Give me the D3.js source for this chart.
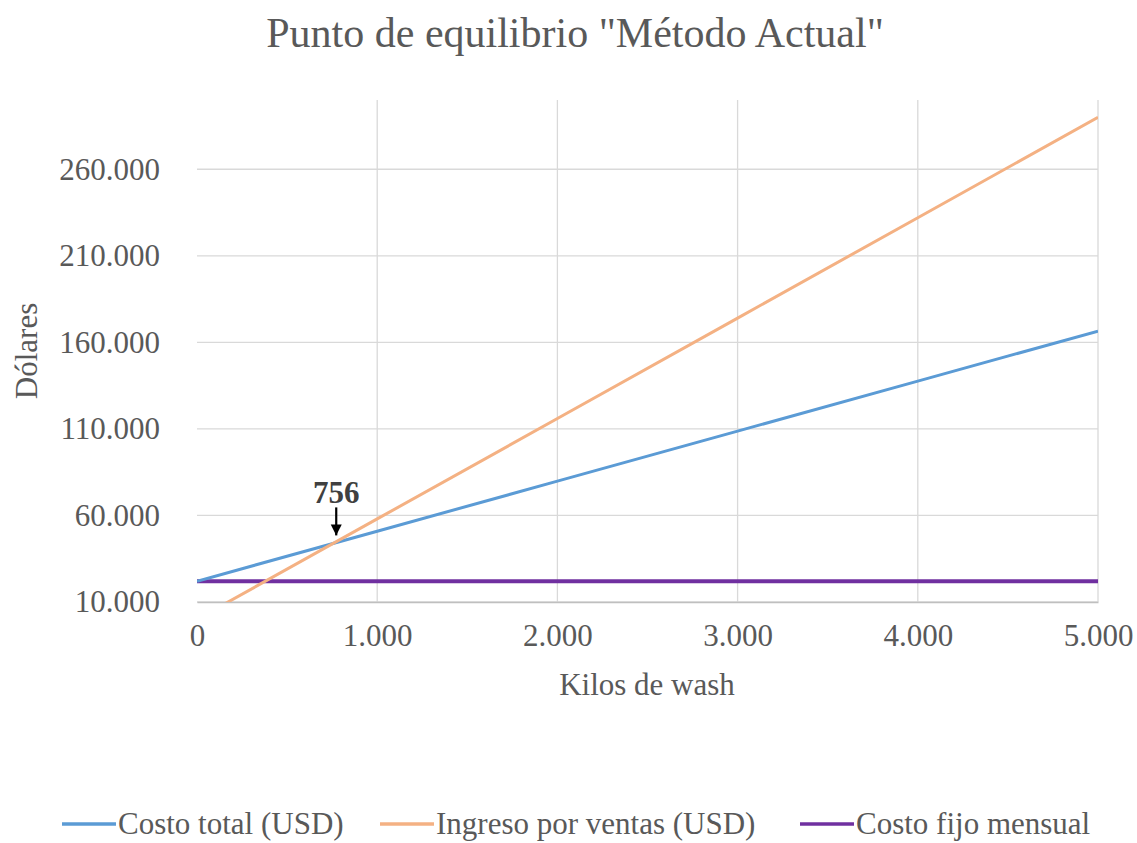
<!DOCTYPE html>
<html>
<head>
<meta charset="utf-8">
<script src="https://cdn.jsdelivr.net/npm/d3@7"></script>
<style>
  html, body { margin: 0; padding: 0; background: #fff; }
  svg { display: block; font-family: "Liberation Serif", "Times New Roman", serif; }
</style>
</head>
<body>
<svg id="chart" width="1137" height="843"></svg>
<script>
// Break-even data (monthly), kilos of wash vs. dollars
const kilos = [0, 1000, 2000, 3000, 4000, 5000];
const costoTotal = [22000, 50900, 79800, 108700, 137600, 166500];
const ingresoVentas = [0, 58000, 116000, 174000, 232000, 290000];
const costoFijo = [22000, 22000, 22000, 22000, 22000, 22000];
const yTicks = [10000, 60000, 110000, 160000, 210000, 260000];
const xTicks = [0, 1000, 2000, 3000, 4000, 5000];
const equilibrioKilos = 756;
const equilibrioCosto = 43848;

const seriesNames = ["Costo total (USD)", "Ingreso por ventas (USD)", "Costo fijo mensual"];
const seriesColors = ["#5b9bd5", "#f4b183", "#7030a0"];

const locale = d3.formatLocale({ decimal: ",", thousands: ".", grouping: [3], currency: ["$", ""] });
const fmt = locale.format(",d");

const svg = d3.select("#chart");
const plot = { left: 197, right: 1098, top: 100, bottom: 602 };

const x = d3.scaleLinear().domain([0, 5000]).range([plot.left, plot.right]);
const y = d3.scaleLinear().domain([10000, 300000]).range([plot.bottom, plot.top]);

const textColor = "#595959";
const gridColor = "#d9d9d9";
const fontSize = 31;

// Title
svg.append("text")
  .attr("x", 575).attr("y", 47)
  .attr("text-anchor", "middle")
  .attr("font-size", 42)
  .attr("fill", textColor)
  .text('Punto de equilibrio "Método Actual"');

// Gridlines
svg.append("g")
  .selectAll("line")
  .data(yTicks)
  .join("line")
  .attr("x1", plot.left).attr("x2", plot.right)
  .attr("y1", d => y(d)).attr("y2", d => y(d))
  .attr("stroke", gridColor).attr("stroke-width", 1.3);

svg.append("g")
  .selectAll("line")
  .data(xTicks.slice(1))
  .join("line")
  .attr("x1", d => x(d)).attr("x2", d => x(d))
  .attr("y1", plot.top).attr("y2", plot.bottom)
  .attr("stroke", gridColor).attr("stroke-width", 1.3);

// Axes (labels only, baseline styled like a gridline)
const xAxis = svg.append("g")
  .attr("transform", `translate(0,${plot.bottom})`)
  .call(d3.axisBottom(x).tickValues(xTicks).tickFormat(fmt).tickSize(0).tickPadding(22));
xAxis.select(".domain").attr("stroke", "#bfbfbf").attr("stroke-width", 1.3);
xAxis.selectAll("text").attr("font-size", fontSize).attr("fill", textColor)
  .attr("font-family", "Liberation Serif, serif");

const yAxis = svg.append("g")
  .attr("transform", `translate(${plot.left},0)`)
  .call(d3.axisLeft(y).tickValues(yTicks).tickFormat(fmt).tickSize(0).tickPadding(37));
yAxis.select(".domain").remove();
yAxis.selectAll("text").attr("font-size", fontSize).attr("fill", textColor)
  .attr("font-family", "Liberation Serif, serif");

// Axis titles
svg.append("text")
  .attr("x", 647).attr("y", 695)
  .attr("text-anchor", "middle")
  .attr("font-size", fontSize).attr("fill", textColor)
  .text("Kilos de wash");

svg.append("text")
  .attr("transform", "translate(37,351) rotate(-90)")
  .attr("text-anchor", "middle")
  .attr("font-size", fontSize).attr("fill", textColor)
  .text("Dólares");

// Clip lines to the plot area
svg.append("clipPath").attr("id", "plotClip")
  .append("rect")
  .attr("x", plot.left).attr("y", plot.top)
  .attr("width", plot.right - plot.left).attr("height", plot.bottom - plot.top);

const seriesData = [costoTotal, ingresoVentas, costoFijo];
const line = d3.line().x((d, i) => x(kilos[i])).y(d => y(d));

const drawOrder = [2, 0, 1];
svg.append("g").attr("clip-path", "url(#plotClip)")
  .selectAll("path")
  .data(drawOrder)
  .join("path")
  .attr("d", k => line(seriesData[k]))
  .attr("fill", "none")
  .attr("stroke", k => seriesColors[k])
  .attr("stroke-width", k => k === 2 ? 4 : 3);

// Break-even annotation
const bx = x(equilibrioKilos), by = y(equilibrioCosto);
svg.append("defs").append("marker")
  .attr("id", "arrowHead")
  .attr("viewBox", "0 0 10 10")
  .attr("refX", 10).attr("refY", 5)
  .attr("markerWidth", 5).attr("markerHeight", 6)
  .attr("markerUnits", "strokeWidth")
  .attr("orient", "auto")
  .append("path").attr("d", "M0,0 L10,5 L0,10 Z").attr("fill", "#000");

svg.append("line")
  .attr("x1", bx + 3).attr("x2", bx + 3)
  .attr("y1", by - 36).attr("y2", by - 8)
  .attr("stroke", "#000").attr("stroke-width", 2.2)
  .attr("marker-end", "url(#arrowHead)");

svg.append("text")
  .attr("x", bx + 3).attr("y", by - 40)
  .attr("text-anchor", "middle")
  .attr("font-size", fontSize).attr("font-weight", "bold")
  .attr("fill", "#404040")
  .text(fmt(equilibrioKilos));

// Legend
const legendX = [62, 380, 800];
const legend = svg.append("g");
seriesNames.forEach((name, i) => {
  const g = legend.append("g").attr("transform", `translate(${legendX[i]},824)`);
  g.append("line").attr("x1", 0).attr("x2", 54).attr("y1", 0).attr("y2", 0)
    .attr("stroke", seriesColors[i]).attr("stroke-width", 3.5);
  g.append("text").attr("x", 56).attr("y", 10)
    .attr("font-size", fontSize).attr("fill", textColor)
    .text(name);
});
</script>
</body>
</html>
